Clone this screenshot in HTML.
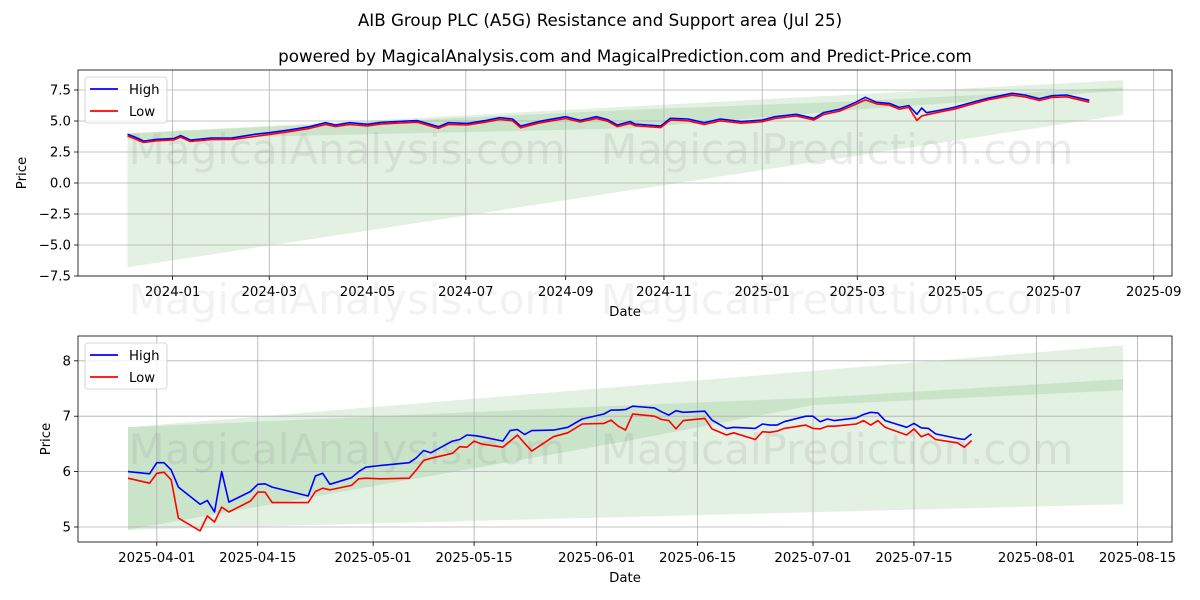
<!DOCTYPE html>
<html><head><meta charset="utf-8"><style>
body{margin:0;background:#fff;}
svg{display:block;font-family:"DejaVu Sans","Liberation Sans",sans-serif;}
</style></head><body>
<svg id="chart" width="1200" height="600" viewBox="0 0 1200 600" xmlns="http://www.w3.org/2000/svg">
<rect x="0" y="0" width="1200" height="600" fill="#fff"/>
<text x="600" y="26" text-anchor="middle" font-size="16.7" fill="#000">AIB Group PLC (A5G) Resistance and Support area (Jul 25)</text>
<text x="625" y="62" text-anchor="middle" font-size="16.7" fill="#000">powered by MagicalAnalysis.com and MagicalPrediction.com and Predict-Price.com</text>
</svg>
<script>
// ---------- top chart data ----------
const topDates = ['2023-12-04','2023-12-08','2023-12-14','2023-12-22','2024-01-02','2024-01-06','2024-01-12','2024-01-25','2024-02-07','2024-02-21','2024-03-01','2024-03-13','2024-03-26','2024-04-05','2024-04-11','2024-04-20','2024-05-01','2024-05-09','2024-05-19','2024-06-01','2024-06-14','2024-06-20','2024-07-02','2024-07-13','2024-07-22','2024-07-30','2024-08-04','2024-08-15','2024-09-01','2024-09-10','2024-09-20','2024-09-27','2024-10-03','2024-10-11','2024-10-14','2024-10-30','2024-11-05','2024-11-16','2024-11-26','2024-12-06','2024-12-19','2025-01-01','2025-01-09','2025-01-22','2025-02-02','2025-02-08','2025-02-18','2025-02-28','2025-03-06','2025-03-13','2025-03-21','2025-03-27','2025-04-02','2025-04-07','2025-04-10','2025-04-13','2025-04-22','2025-04-30','2025-05-09','2025-05-21','2025-06-05','2025-06-13','2025-06-22','2025-06-30','2025-07-09','2025-07-23'];
const topHigh = [3.93,3.74,3.39,3.52,3.6,3.82,3.47,3.62,3.64,3.93,4.06,4.27,4.54,4.86,4.68,4.86,4.73,4.89,4.95,5.03,4.54,4.86,4.81,5.03,5.27,5.16,4.6,4.95,5.35,5.05,5.35,5.11,4.68,4.95,4.76,4.6,5.22,5.16,4.86,5.16,4.95,5.08,5.35,5.54,5.22,5.67,5.94,6.51,6.91,6.51,6.42,6.1,6.24,5.54,6.05,5.67,5.89,6.1,6.42,6.83,7.23,7.1,6.8,7.04,7.1,6.67];
const topLow = [3.8,3.6,3.27,3.4,3.48,3.7,3.35,3.5,3.52,3.75,3.92,4.13,4.4,4.72,4.55,4.72,4.6,4.75,4.82,4.9,4.4,4.72,4.68,4.9,5.12,5.02,4.45,4.82,5.2,4.92,5.2,4.98,4.55,4.8,4.62,4.47,5.08,5.02,4.72,5.02,4.82,4.94,5.2,5.4,5.08,5.52,5.8,6.35,6.7,6.38,6.28,5.95,6.1,5.05,5.4,5.5,5.75,5.95,6.28,6.7,7.08,6.95,6.65,6.9,6.95,6.52];
const topOuterDates = ['2023-12-04','2025-08-13'];
const topOuterHi = [4.0,8.3];
const topOuterLo = [-6.8,5.5];
const topInnerDates = ['2023-12-04','2024-10-11','2025-02-28','2025-08-13'];
const topInnerHi = [4.0,5.9,6.6,7.7];
const topInnerLo = [3.5,4.4,5.9,7.45];
const topYTicks = [7.5,5,2.5,0,-2.5,-5,-7.5];
const topYTickLabels = ['7.5','5.0','2.5','0.0','\u22122.5','\u22125.0','\u22127.5'];
const topXTicks = ['2024-01-01','2024-03-01','2024-05-01','2024-07-01','2024-09-01','2024-11-01','2025-01-01','2025-03-01','2025-05-01','2025-07-01','2025-09-01'];
const topXTickLabels = ['2024-01','2024-03','2024-05','2024-07','2024-09','2024-11','2025-01','2025-03','2025-05','2025-07','2025-09'];

// ---------- bottom chart data ----------
const botDates = ['2025-03-28','2025-03-31','2025-04-01','2025-04-02','2025-04-03','2025-04-04','2025-04-07','2025-04-08','2025-04-09','2025-04-10','2025-04-11','2025-04-14','2025-04-15','2025-04-16','2025-04-17','2025-04-22','2025-04-23','2025-04-24','2025-04-25','2025-04-28','2025-04-29','2025-04-30','2025-05-02','2025-05-06','2025-05-07','2025-05-08','2025-05-09','2025-05-12','2025-05-13','2025-05-14','2025-05-15','2025-05-16','2025-05-19','2025-05-20','2025-05-21','2025-05-22','2025-05-23','2025-05-26','2025-05-28','2025-05-30','2025-06-02','2025-06-03','2025-06-04','2025-06-05','2025-06-06','2025-06-09','2025-06-10','2025-06-11','2025-06-12','2025-06-13','2025-06-16','2025-06-17','2025-06-19','2025-06-20','2025-06-23','2025-06-24','2025-06-25','2025-06-26','2025-06-27','2025-06-30','2025-07-01','2025-07-02','2025-07-03','2025-07-04','2025-07-07','2025-07-08','2025-07-09','2025-07-10','2025-07-11','2025-07-14','2025-07-15','2025-07-16','2025-07-17','2025-07-18','2025-07-21','2025-07-22','2025-07-23'];
const botHigh = [6.0,5.96,6.16,6.16,6.03,5.72,5.41,5.48,5.27,6.0,5.45,5.64,5.77,5.78,5.72,5.56,5.92,5.97,5.77,5.89,6.0,6.08,6.11,6.16,6.25,6.38,6.34,6.55,6.58,6.66,6.65,6.63,6.55,6.74,6.76,6.67,6.74,6.75,6.8,6.95,7.04,7.11,7.11,7.12,7.18,7.15,7.08,7.02,7.1,7.07,7.09,6.93,6.78,6.8,6.78,6.86,6.84,6.84,6.9,7.0,7.0,6.9,6.95,6.92,6.97,7.03,7.07,7.06,6.92,6.8,6.87,6.79,6.78,6.68,6.6,6.58,6.68];
const botLow = [5.88,5.79,5.97,5.99,5.85,5.16,4.93,5.2,5.09,5.36,5.27,5.47,5.63,5.63,5.44,5.44,5.64,5.7,5.67,5.75,5.87,5.88,5.87,5.88,6.03,6.2,6.24,6.33,6.45,6.44,6.55,6.5,6.44,6.55,6.66,6.51,6.37,6.63,6.7,6.86,6.87,6.93,6.82,6.75,7.04,7.0,6.94,6.92,6.77,6.92,6.96,6.77,6.66,6.7,6.58,6.72,6.71,6.73,6.78,6.84,6.78,6.77,6.82,6.82,6.86,6.92,6.84,6.92,6.8,6.66,6.77,6.63,6.68,6.58,6.52,6.44,6.56];
const botOuterDates = ['2025-03-28','2025-08-13'];
const botOuterHi = [6.8,8.28];
const botOuterLo = [4.95,5.41];
const botInnerDates = ['2025-03-28','2025-06-06','2025-07-01','2025-08-13'];
const botInnerHi = [6.8,7.2,7.33,7.67];
const botInnerLo = [4.95,6.57,7.2,7.47];
const botYTicks = [5,6,7,8];
const botYTickLabels = ['5','6','7','8'];
const botXTicks = ['2025-04-01','2025-04-15','2025-05-01','2025-05-15','2025-06-01','2025-06-15','2025-07-01','2025-07-15','2025-08-01','2025-08-15'];
const botXTickLabels = ['2025-04-01','2025-04-15','2025-05-01','2025-05-15','2025-06-01','2025-06-15','2025-07-01','2025-07-15','2025-08-01','2025-08-15'];

const NS = 'http://www.w3.org/2000/svg';
const svg = document.getElementById('chart');
function dayNum(s){ const p=s.split('-'); return Date.UTC(+p[0],+p[1]-1,+p[2])/86400000; }
function mk(tag, attrs, parent){ const e=document.createElementNS(NS,tag); for(const k in attrs) e.setAttribute(k,attrs[k]); (parent||svg).appendChild(e); return e; }

function drawChart(cfg){
  const g = mk('g',{});
  
  
  const xS = d => cfg.x0 + (dayNum(d)-dayNum(cfg.xRefDate))*cfg.pxDay;
  const yS = v => cfg.yRefPx - (v-cfg.yRefVal)*cfg.pxUnit;
  const L=78,R=1172,T=cfg.top,B=cfg.bottom;
  function band(dates, hi, lo, nm){
    let pts=[]; for(let i=0;i<dates.length;i++) pts.push(xS(dates[i]).toFixed(1)+','+yS(hi[i]).toFixed(1));
    for(let i=dates.length-1;i>=0;i--) pts.push(xS(dates[i]).toFixed(1)+','+yS(lo[i]).toFixed(1));
    const p=mk('polygon',{points:pts.join(' '),fill:'#008000','fill-opacity':'0.11'},g);
    
    
  }
  band(cfg.outerDates,cfg.outerHi,cfg.outerLo,'resistance-support-band-outer');
  band(cfg.innerDates,cfg.innerHi,cfg.innerLo,'resistance-support-band-inner');
  cfg.xTicks.forEach((d,i)=>{
    const x=xS(d);
    const gl=mk('line',{x1:x,x2:x,y1:T,y2:B,stroke:'#b0b0b0','stroke-width':'0.8'},g);
    
    
    mk('line',{x1:x,x2:x,y1:B,y2:B+4,stroke:'#000','stroke-width':'0.8'},g);
    const t=mk('text',{x:x,y:B+20,'text-anchor':'middle','font-size':'13.3',fill:'#000'},g);
    t.textContent=cfg.xTickLabels[i];
    
    
  });
  cfg.yTicks.forEach((v,i)=>{
    const y=yS(v);
    const gl=mk('line',{x1:L,x2:R,y1:y,y2:y,stroke:'#b0b0b0','stroke-width':'0.8'},g);
    
    
    mk('line',{x1:L-4,x2:L,y1:y,y2:y,stroke:'#000','stroke-width':'0.8'},g);
    const t=mk('text',{x:L-7,y:y+4.5,'text-anchor':'end','font-size':'13.3',fill:'#000'},g);
    t.textContent=cfg.yTickLabels[i];
    
    
  });
  [['MagicalAnalysis.com',347],['MagicalPrediction.com',837]].forEach(w=>{
    const t=mk('text',{x:w[1],y:cfg.wmY,'text-anchor':'middle','font-size':'42',fill:'#808080','fill-opacity':'0.15'},g);
    t.textContent=w[0];
    
    
  });
  function line(vals, color, nm){
    const pts=cfg.dates.map((d,i)=>xS(d).toFixed(1)+','+yS(vals[i]).toFixed(1)).join(' ');
    const p=mk('polyline',{points:pts,fill:'none',stroke:color,'stroke-width':'1.6','stroke-linejoin':'round'},g);
    
    
  }
  line(cfg.high,'#0000ff','high-line');
  line(cfg.low,'#ff0000','low-line');
  const fr=mk('rect',{x:L,y:T,width:R-L,height:B-T,fill:'none',stroke:'#000','stroke-width':'0.8'},g);
  
  
  const xl=mk('text',{x:(L+R)/2,y:B+40,'text-anchor':'middle','font-size':'13.3',fill:'#000'},g);
  xl.textContent='Date';
  
  
  const yl=mk('text',{x:0,y:0,'text-anchor':'middle','font-size':'13.3',fill:'#000',transform:'translate('+cfg.yLabelX+','+((T+B)/2)+') rotate(-90)'},g);
  yl.textContent='Price';
  
  
  const lg=mk('g',{},g);
  
  
  mk('rect',{x:85,y:T+7,width:82,height:46,rx:3,fill:'#fff','fill-opacity':'0.8',stroke:'#ccc','stroke-width':'0.8'},lg);
  [['High','#0000ff',T+19],['Low','#ff0000',T+41]].forEach(e=>{
    const le=mk('g',{},lg);
    
    
    mk('line',{x1:90,x2:118,y1:e[2],y2:e[2],stroke:e[1],'stroke-width':'1.8'},le);
    const t=mk('text',{x:129,y:e[2]+5,'font-size':'13.3',fill:'#000'},le);
    t.textContent=e[0];
  });
}

drawChart({name:'top-chart',top:70,bottom:276,x0:172.6,xRefDate:'2024-01-01',pxDay:1.611,yRefPx:183,yRefVal:0,pxUnit:12.4,
  dates:topDates,high:topHigh,low:topLow,outerDates:topOuterDates,outerHi:topOuterHi,outerLo:topOuterLo,
  innerDates:topInnerDates,innerHi:topInnerHi,innerLo:topInnerLo,yTicks:topYTicks,yTickLabels:topYTickLabels,
  xTicks:topXTicks,xTickLabels:topXTickLabels,wmY:164,yLabelX:26});
drawChart({name:'bottom-chart',top:336,bottom:542,x0:156.8,xRefDate:'2025-04-01',pxDay:7.211,yRefPx:527,yRefVal:5,pxUnit:55.4,
  dates:botDates,high:botHigh,low:botLow,outerDates:botOuterDates,outerHi:botOuterHi,outerLo:botOuterLo,
  innerDates:botInnerDates,innerHi:botInnerHi,innerLo:botInnerLo,yTicks:botYTicks,yTickLabels:botYTickLabels,
  xTicks:botXTicks,xTickLabels:botXTickLabels,wmY:464,yLabelX:50});
[['MagicalAnalysis.com',347],['MagicalPrediction.com',837]].forEach(w=>{
  const t=mk('text',{x:w[1],y:314,'text-anchor':'middle','font-size':'42',fill:'#808080','fill-opacity':'0.1'});
  t.textContent=w[0];
  
  
});
</script>
</body></html>
